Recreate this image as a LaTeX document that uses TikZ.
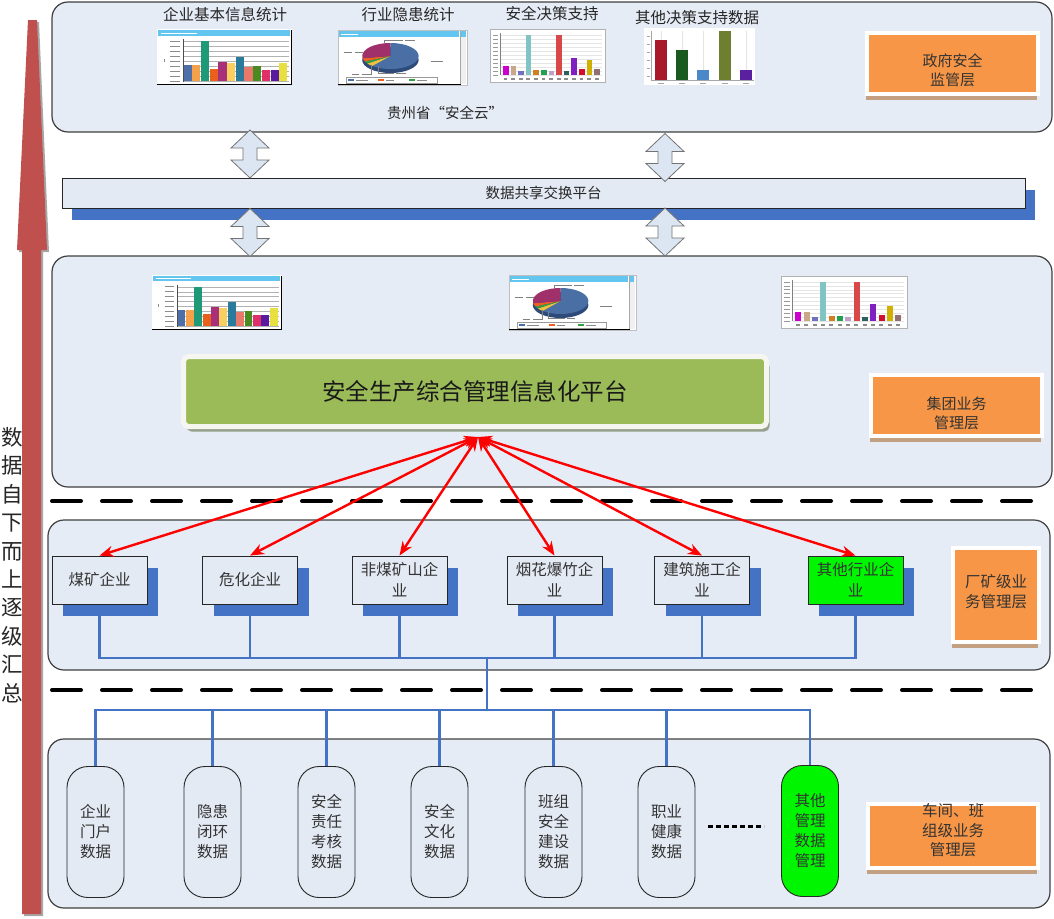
\documentclass[tikz,border=0pt]{standalone}
\usepackage{fontspec}
\setmainfont{Noto Sans CJK SC}
\usetikzlibrary{arrows.meta,shadows,calc}
\pgfdeclarelayer{bg}
\pgfsetlayers{bg,main}
\newcommand\fsz[2]{\fontsize{#1pt}{#2pt}\selectfont}

\definecolor{panelfill}{RGB}{230,236,246}
\definecolor{panelline}{RGB}{64,64,64}
\definecolor{boxfill}{RGB}{228,234,244}
\definecolor{shadowblue}{RGB}{68,114,196}
\definecolor{layerorange}{RGB}{247,150,70}
\definecolor{layertan}{RGB}{196,160,130}
\definecolor{platgreen}{RGB}{155,187,89}
\definecolor{platframe}{RGB}{245,246,240}
\definecolor{platshadow}{RGB}{150,160,140}
\definecolor{hotgreen}{RGB}{0,245,0}
\definecolor{arrowfill}{RGB}{220,230,242}
\definecolor{barred}{RGB}{192,80,77}
\definecolor{sky}{RGB}{98,198,240}
\definecolor{linkred}{RGB}{255,0,0}
% bar chart colours
\definecolor{cA1}{HTML}{4F6FA8}\definecolor{cA2}{HTML}{F5A04A}\definecolor{cA3}{HTML}{1E9A78}
\definecolor{cA4}{HTML}{E8601C}\definecolor{cA5}{HTML}{A8307A}\definecolor{cA6}{HTML}{F8D060}
\definecolor{cA7}{HTML}{2A7A9C}\definecolor{cA8}{HTML}{E8786A}\definecolor{cA9}{HTML}{4A8A20}
\definecolor{cA10}{HTML}{E0306A}\definecolor{cA11}{HTML}{5A1AA0}\definecolor{cA12}{HTML}{E8E040}
\definecolor{cC1}{HTML}{CC00CC}\definecolor{cC2}{HTML}{C8A888}\definecolor{cC3}{HTML}{7070C0}
\definecolor{cC4}{HTML}{80C4C4}\definecolor{cC5}{HTML}{D08020}\definecolor{cC6}{HTML}{20A050}
\definecolor{cC7}{HTML}{C0A0C8}\definecolor{cC8}{HTML}{D84848}\definecolor{cC9}{HTML}{2E6060}
\definecolor{cC10}{HTML}{8020C0}\definecolor{cC11}{HTML}{D01030}\definecolor{cC12}{HTML}{D0B000}
\definecolor{cC13}{HTML}{907070}
\definecolor{cD1}{HTML}{A81828}\definecolor{cD2}{HTML}{1A5A20}\definecolor{cD3}{HTML}{4A88C8}
\definecolor{cD4}{HTML}{6E8030}\definecolor{cD5}{HTML}{5A20A0}
\definecolor{pBlue}{HTML}{4A6FA5}\definecolor{pBlueDark}{HTML}{2E4A78}\definecolor{pMag}{HTML}{A0306A}
\definecolor{pOrange}{HTML}{F06020}\definecolor{pGreen}{HTML}{30A040}\definecolor{pYellow}{HTML}{F0C040}

\tikzset{
  updown/.pic={
    \draw[fill=arrowfill,draw=black!55,line width=0.8pt,line join=miter]
      (0,-24) -- (19,-6) -- (7,-6) -- (7,6) -- (19,6) -- (0,24)
      -- (-19,6) -- (-7,6) -- (-7,-6) -- (-19,-6) -- cycle;
  },
  chartbars/.pic={
    \fill[white] (0,0) rectangle (135,56);
    \fill[sky] (1,1) rectangle (133,6.5);
    \draw[white,line width=0.6pt] (4,3.8) -- (40,3.8);
    \foreach \yy in {12,17,...,52} {
      \draw[black!30,line width=0.3pt] (26,\yy) -- (132,\yy);
      \draw[black!45,line width=0.6pt] (13,\yy) -- (23,\yy);
    }
    \draw[black!45,line width=0.8pt] (7,30) -- (7,33);
    \draw[black!70,line width=0.4pt] (26,10) -- (26,53);
    \foreach \c/\h [count=\i from 0] in {cA1/16,cA2/16,cA3/40,cA4/12.5,cA5/19.5,cA6/18.5,cA7/24,cA8/14,cA9/15,cA10/11.5,cA11/11.5,cA12/18.5}
      \fill[\c] ({26.5+\i*8.7},52) rectangle ++(8.2,-\h);
    \draw[black,line width=1.2pt] (134.4,1) -- (134.4,56);
    \draw[black,line width=1pt] (0,55.5) -- (135,55.5);
  },
  chartpie/.pic={
    \fill[white] (0,0) rectangle (128,55);
    \draw[black!25,line width=0.4pt] (0,0) rectangle (128,55);
    \fill[sky] (1,1) rectangle (120,6.5);
    \draw[white,line width=0.6pt] (3,3.8) -- (20,3.8);
    \fill[black!6] (121,1) rectangle (127,54);
    \fill[sky] (121.5,1) rectangle (126.5,6.5);
    \draw[black!35,line width=0.4pt] (121,1) -- (121,54);
    \fill[pBlueDark] (52,30) ellipse [x radius=28,y radius=13];
    \fill[pBlue] (52,26) -- ++(-90:28 and 13) arc[start angle=-90,end angle=130,x radius=28,y radius=13] -- cycle;
    \fill[pYellow] (52,26) -- ++(130:28 and 13) arc[start angle=130,end angle=145,x radius=28,y radius=13] -- cycle;
    \fill[pGreen] (52,26) -- ++(145:28 and 13) arc[start angle=145,end angle=155,x radius=28,y radius=13] -- cycle;
    \fill[pOrange] (52,26) -- ++(155:28 and 13) arc[start angle=155,end angle=170,x radius=28,y radius=13] -- cycle;
    \fill[pMag] (52,26) -- ++(170:28 and 13) arc[start angle=170,end angle=270,x radius=28,y radius=13] -- cycle;
    \draw[black!50,line width=0.4pt] (46,14) -- (46,10) -- (64,10);
    \draw[black!50,line width=0.6pt] (66,10) -- (76,10);
    \draw[black!50,line width=0.4pt] (25,22) -- (17,22);
    \draw[black!50,line width=0.6pt] (6,22) -- (14,22);
    \draw[black!50,line width=0.6pt] (92,31) -- (104,31);
    \draw[black!50,line width=0.4pt] (40,36) -- (40,43) -- (56,43);
    \draw[black!50,line width=0.6pt] (58,43) -- (67,43);
    \draw[black!50,line width=0.4pt] (33,35) -- (33,44) -- (24,44);
    \draw[black!50,line width=0.6pt] (14,44) -- (21,44);
    \draw[black!40,line width=0.3pt] (8,47.5) rectangle (98,53);
    \fill[pBlue] (10,49.3) rectangle (16,51.3);
    \draw[black!45,line width=0.6pt] (18,50.3) -- (30,50.3);
    \fill[pOrange] (40,49.3) rectangle (46,51.3);
    \draw[black!45,line width=0.6pt] (48,50.3) -- (56,50.3);
    \fill[pGreen] (70,49.3) rectangle (76,51.3);
    \draw[black!45,line width=0.6pt] (78,50.3) -- (88,50.3);
    \draw[black,line width=1pt] (0,54.5) -- (122,54.5);
  },
  chartcols/.pic={
    \fill[white] (0,0) rectangle (115,53);
    \draw[black!30,line width=0.4pt] (0,0) rectangle (115,53);
    \foreach \yy in {6,10,...,46} {
      \draw[black!10,line width=0.3pt] (11,\yy) -- (112,\yy);
      \draw[black!40,line width=0.5pt] (3,\yy) -- (8,\yy);
    }
    \draw[black!50,line width=0.4pt] (10,4) -- (10,46);
    \foreach \c/\h [count=\i from 0] in {cC1/9,cC2/9,cC3/4.5,cC4/40,cC5/5,cC6/5,cC7/4.5,cC8/40,cC9/4.5,cC10/17,cC11/6.5,cC12/15.5,cC13/6.5} {
      \fill[\c] ({13+\i*7.6},46) rectangle ++(5.6,-\h);
      \fill[black!45] ({13.6+\i*7.6},48.5) rectangle ++(3.8,2.6);
    }
  },
  chartfive/.pic={
    \fill[white] (0,0) rectangle (111,57);
    \foreach \xx in {17,38,59,80,102}
      \draw[black!10,line width=0.3pt] (\xx,3) -- (\xx,52);
    \draw[black!35,line width=0.4pt] (7,3) -- (7,52) -- (110,52);
    \foreach \yy in {8,16,...,48}
      \draw[black!35,line width=0.4pt] (3,\yy) -- (6,\yy);
    \foreach \c/\h [count=\i from 0] in {cD1/40,cD2/30,cD3/10,cD4/49,cD5/10} {
      \fill[\c] ({11+\i*21.2},52) rectangle ++(12,-\h);
      \fill[black!35] ({14+\i*21.2},54.5) rectangle ++(6,1.5);
    }
  },
}

\begin{document}
\begin{tikzpicture}[x=1pt,y=-1pt,
  panel/.style={draw=panelline,line width=1.2pt,fill=panelfill,rounded corners=16pt},
  title/.style={font=\fsz{15.5}{18},text=black!85,inner sep=0pt},
  orgbox/.style={draw=black!85,line width=0.9pt,fill=boxfill,minimum width=95pt,minimum height=48pt,
    inner sep=1pt,align=center,font=\fsz{15.5}{21},text=black!80,
    drop shadow={shadow xshift=11pt,shadow yshift=-12pt,fill=shadowblue,opacity=1}},
  databox/.style={draw=black!85,line width=0.9pt,fill=boxfill,rounded corners=21pt,
    minimum width=57pt,minimum height=131pt,inner sep=0pt,align=center,font=\fsz{15.5}{20},text=black!80},
  layerbox/.style={fill=layerorange,draw=white,line width=4pt,inner sep=0pt,
    drop shadow={shadow xshift=-1pt,shadow yshift=-6pt,fill=layertan,opacity=1}},
  layertext/.style={align=center,font=\fsz{15}{19},text=black!80,inner sep=0pt},
  bus/.style={draw=shadowblue,line width=2.6pt},
  link/.style={draw=linkred,line width=2.4pt,{Stealth[length=14pt,width=11pt]}-{Stealth[length=14pt,width=11pt]}},
  divider/.style={line width=4pt,line cap=round,dash pattern=on 29pt off 21pt},
]
\useasboundingbox (0,0) rectangle (1054,918);

% ---- background and the four layer panels
\begin{pgfonlayer}{bg}
  \fill[white] (0,0) rectangle (1054,918);
  \draw[panel] (52,2) rectangle (1052,132);
  \draw[panel] (52,256) rectangle (1052,487);
  \draw[panel] (48,520) rectangle (1050,670);
  \draw[panel] (48,739) rectangle (1050,908);
\end{pgfonlayer}

% ---- upward summary arrow on the left
\fill[black!35] (30,22) -- (39,22) -- (49,252) -- (43,252) -- (43,916) -- (24,916) -- (24,252) -- (19,252) -- cycle;
\fill[barred] (28,20) -- (37,20) -- (47,250) -- (41,250) -- (41,914) -- (22,914) -- (22,250) -- (17,250) -- cycle;
\node[font=\fsz{21.5}{28.4},align=center,inner sep=0pt,text=black!85] (vtitle) at (12,565)
  {数\\据\\自\\下\\而\\上\\逐\\级\\汇\\总};

% ---- dividers between levels
\draw[divider] (52,501) -- (1050,501);
\draw[divider] (52,690) -- (1050,690);

% ---- government level
\node[title] (t1) at (225,15) {企业基本信息统计};
\node[title] (t2) at (408,15) {行业隐患统计};
\node[title] (t3) at (552,14) {安全决策支持};
\node[title] (t4) at (697,18) {其他决策支持数据};
\pic at (157,29) {chartbars};
\pic[xscale=1.008] at (338,30) {chartpie};
\pic[xscale=1.0,yscale=1.0] at (490,29) {chartcols};
\pic at (644,28) {chartfive};
\node[font=\fsz{14.5}{17},text=black!85,inner sep=0pt] (cloud) at (445,113) {贵州省“安全云”};
\node[layerbox,minimum width=171pt,minimum height=61pt] (gov) at (952.5,63.5) {};
\node[layertext] (govtext) at (952.5,70) {政府安全\\监管层};

% ---- data sharing platform
\node[draw=black!85,line width=0.9pt,fill=boxfill,minimum width=963pt,minimum height=30pt,inner sep=0pt,
  font=\fsz{14.5}{16},text=black!85,
  drop shadow={shadow xshift=10pt,shadow yshift=-12pt,fill=shadowblue,opacity=1}] (share) at (543.5,193) {数据共享交换平台};
\pic at (250,154) {updown};
\pic at (665,157.5) {updown};
\pic at (250,232.5) {updown};
\pic at (665,232) {updown};

% ---- group level
\pic[xscale=0.963,yscale=0.98] at (152,275) {chartbars};
\pic[xscale=0.992] at (509,275) {chartpie};
\pic[xscale=1.096,yscale=0.98] at (781,276) {chartcols};
\node[fill=platgreen,draw=platframe,line width=5pt,rounded corners=5pt,minimum width=583pt,minimum height=70pt,
  font=\fsz{23.5}{26},text=black!90,
  drop shadow={shadow xshift=3pt,shadow yshift=-5pt,fill=platshadow,opacity=1}] (plat) at (475,391.5) {安全生产综合管理信息化平台};
\node[layerbox,minimum width=171pt,minimum height=61pt] (grp) at (956.5,405.5) {};
\node[layertext] (grptext) at (956.5,413) {集团业务\\管理层};

% ---- enterprise level
\node[orgbox] (m1) at (99.5,580) {煤矿企业};
\node[orgbox] (m2) at (250,580) {危化企业};
\node[orgbox] (m3) at (399.5,580) {非煤矿山企\\业};
\node[orgbox] (m4) at (554.5,580) {烟花爆竹企\\业};
\node[orgbox] (m5) at (702,580) {建筑施工企\\业};
\node[orgbox,fill=hotgreen] (m6) at (855.5,580) {其他行业企\\业};
\node[layerbox,minimum width=86pt,minimum height=94pt] (fac) at (996,595) {};
\node[layertext,font=\fsz{15.5}{20}] (factext) at (996,592) {厂矿级业\\务管理层};

% ---- workshop level
\node[databox] (p1) at (95.5,832) {企业\\门户\\数据};
\node[databox] (p2) at (212.5,832) {隐患\\闭环\\数据};
\node[databox] (p3) at (326.5,832) {安全\\责任\\考核\\数据};
\node[databox] (p4) at (439.5,832) {安全\\文化\\数据};
\node[databox] (p5) at (553.5,832) {班组\\安全\\建设\\数据};
\node[databox] (p6) at (666.5,832) {职业\\健康\\数据};
\node[databox,fill=hotgreen] (p7) at (810,831) {其他\\管理\\数据\\管理};
\coordinate (dotsA) at (708,826);
\coordinate (dotsB) at (764,826);
\draw[line width=3pt,dash pattern=on 5pt off 3pt] (dotsA) -- (dotsB);
\node[layerbox,minimum width=170pt,minimum height=64pt] (shop) at (953,836) {};
\node[layertext,font=\fsz{15.5}{19.5}] (shoptext) at (953,830.5) {车间、班\\组级业务\\管理层};

% ---- collection buses
\coordinate (hubTop) at (487,658);
\coordinate (hubBot) at (487,710);
\begin{pgfonlayer}{bg}
  \foreach \m in {m1,m2,m3,m4,m5,m6}
    \draw[bus] (\m.south) |- (hubTop);
  \draw[bus] (hubTop) -- (hubBot);
  \foreach \p in {p1,p2,p3,p4,p5,p6,p7}
    \draw[bus] (\p.north) |- (hubBot);
\end{pgfonlayer}

% ---- links between the platform and the enterprises
\coordinate (hub) at (478,437);
\foreach \m in {m1,m2,m3,m4,m5,m6}
  \draw[link] (hub) -- (\m.north);
\end{tikzpicture}
\end{document}
